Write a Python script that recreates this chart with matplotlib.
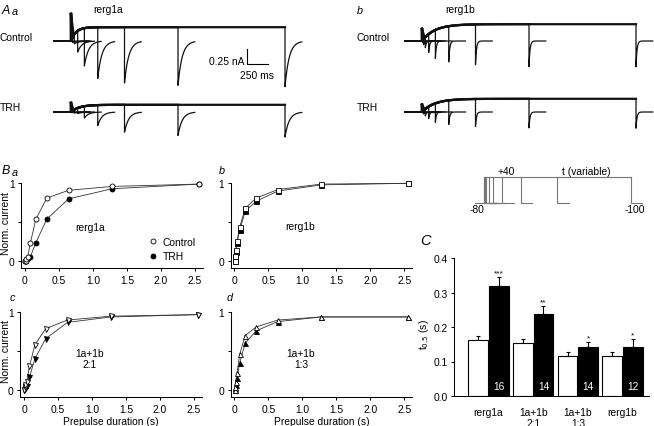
import numpy as np
import matplotlib
matplotlib.use('Agg')
from matplotlib import pyplot as plt

plt.rcParams['font.family'] = ['Liberation Sans', 'DejaVu Sans']
plt.rcParams['font.size'] = 7.4
plt.rcParams['axes.linewidth'] = 0.75
plt.rcParams['xtick.major.width'] = 0.75
plt.rcParams['ytick.major.width'] = 0.75
plt.rcParams['xtick.major.size'] = 2.5
plt.rcParams['ytick.major.size'] = 2.5
plt.rcParams['xtick.direction'] = 'out'
plt.rcParams['ytick.direction'] = 'out'

W, H = 654, 427

# prepulse durations (s)
durations = [0.005, 0.01, 0.02, 0.04, 0.08, 0.16, 0.32, 0.64, 1.28, 2.56]

# normalised tail currents (panels Ba-Bd)
ba_control = [0.0, 0.01, 0.03, 0.06, 0.24, 0.54, 0.81, 0.91, 0.96, 0.99]
ba_trh = [0.0, 0.01, 0.02, 0.04, 0.06, 0.24, 0.54, 0.80, 0.93, 0.99]
bb_control = [0.01, 0.07, 0.14, 0.26, 0.44, 0.68, 0.81, 0.92, 0.99, 1.0]
bb_trh = [0.0, 0.05, 0.12, 0.24, 0.40, 0.64, 0.77, 0.90, 0.98, 1.0]
c_control = [0.0, 0.03, 0.06, 0.10, 0.30, 0.58, 0.79, 0.90, 0.95, 0.97]
c_trh = [0.0, 0.01, 0.03, 0.05, 0.16, 0.40, 0.66, 0.87, 0.94, 0.97]
d_control = [0.0, 0.04, 0.10, 0.22, 0.46, 0.70, 0.81, 0.90, 0.94, 0.94]
d_trh = [0.0, 0.02, 0.06, 0.15, 0.35, 0.60, 0.76, 0.88, 0.94, 0.94]

# panel C: t0.5 (s)
groups = ['rerg1a', '1a+1b\n2:1', '1a+1b\n1:3', 'rerg1b']
t05_control = [0.163, 0.154, 0.115, 0.115]
t05_control_sem = [0.012, 0.011, 0.013, 0.013]
t05_trh = [0.319, 0.238, 0.141, 0.143]
t05_trh_sem = [0.027, 0.024, 0.015, 0.022]
n_cells = [16, 14, 14, 12]
signif = ['***', '**', '*', '*']

# current traces (nA): step current, max tail current  [control, TRH]
rerg1a_plateau = [0.23, 0.12]
rerg1a_tail = [0.77, 0.42]
rerg1b_plateau = [0.28, 0.22]
rerg1b_tail = [0.43, 0.27]

fig = plt.figure(figsize=(W / 100, H / 100), dpi=100)


def px_axes(x0, y0, sx, sy, xlim, ylim):
    # data (0,0) sits at pixel (x0, y0); sx, sy in px per unit
    left = x0 + xlim[0] * sx
    top = y0 - ylim[1] * sy
    w = (xlim[1] - xlim[0]) * sx
    h = (ylim[1] - ylim[0]) * sy
    ax = fig.add_axes([left / W, 1 - (top + h) / H, w / W, h / H])
    ax.set_xlim(xlim)
    ax.set_ylim(ylim)
    ax.patch.set_alpha(0)
    return ax


def ftext(x, y, s, **kw):
    fig.text(x / W, 1 - y / H, s, **kw)


def sweep(d, plateau, tail, tau_on, tau_off, spike):
    t1 = np.linspace(-0.2, 0, 10)
    t2 = np.linspace(0, d, 80)
    i2 = plateau * (1 - np.exp(-t2 / tau_on))
    i2[0] = spike
    t3 = np.linspace(d, d + 0.2, 80)
    i3 = -tail * np.exp(-(t3 - d) / tau_off)
    return t1, t2, i2, t3, i3


def trace_panel(x0, y0, plateau, tail, norm, tau_on, tau_off, spike):
    ax = px_axes(x0, y0, 83.6, 60, (-0.25, 2.8), (-1.0, 0.6))
    ax.axis('off')
    for d, f in zip(durations, norm):
        t1, t2, i2, t3, i3 = sweep(d, plateau, tail * f, tau_on, tau_off, spike)
        ax.plot(t1, 0 * t1, color='#111111', lw=1.3)
        ax.plot(t2, i2, color='#111111', lw=1.6)
        ax.plot(np.concatenate([[d], t3]), np.concatenate([[i2[-1]], i3]),
                color='#111111', lw=0.9)
    return ax


# ---- A: current traces ----
ax_a = trace_panel(71, 42, rerg1a_plateau[0], rerg1a_tail[0], ba_control, 0.06, 0.05, 0.45)
trace_panel(71, 113, rerg1a_plateau[1], rerg1a_tail[1], ba_trh, 0.1, 0.05, 0.15)
trace_panel(422, 42, rerg1b_plateau[0], rerg1b_tail[0], bb_control, 0.15, 0.012, 0.2)
trace_panel(422, 113, rerg1b_plateau[1], rerg1b_tail[1], bb_trh, 0.15, 0.012, 0.12)

# scale bar 0.25 nA / 250 ms
ax_a.plot([2.105, 2.105, 2.355], [-0.133, -0.383, -0.383], color='black', lw=0.8)
ax_a.text(2.07, -0.33, '0.25 nA', ha='right', va='center')
ax_a.text(2.23, -0.57, '250 ms', ha='center', va='center')

ftext(2, 11, 'A', fontsize=9, style='italic', va='center')
ftext(11.5, 12, 'a', fontsize=7.8, style='italic', va='center')
ftext(108, 10, 'rerg1a', ha='center', va='center')
ftext(0, 38, 'Control', va='center')
ftext(0, 108, 'TRH', va='center')
ftext(357, 11, 'b', fontsize=7.8, style='italic', va='center')
ftext(460, 10, 'rerg1b', ha='center', va='center')
ftext(357, 38, 'Control', va='center')
ftext(357, 108, 'TRH', va='center')


# ---- B: normalised current vs prepulse duration ----
def curve_panel(x0, y0, sy, ctrl, trh, marker, xleft, ylow):
    ax = px_axes(x0, y0, 68, sy, (xleft, 2.62), (ylow, 1.05))
    ax.plot(durations, ctrl, '-', color='#333333', lw=0.6, zorder=1)
    ax.plot(durations, trh, '-', color='#333333', lw=0.6, zorder=1)
    h_trh, = ax.plot(durations, trh, ls='none', marker=marker, ms=3.6,
                     mfc='black', mec='black', mew=0.6, label='TRH', zorder=2)
    h_ctrl, = ax.plot(durations, ctrl, ls='none', marker=marker, ms=3.6,
                      mfc='white', mec='black', mew=0.6, label='Control', zorder=3)
    for s in ['top', 'right']:
        ax.spines[s].set_visible(False)
    ax.spines['left'].set_bounds(ylow, 1)
    ax.set_yticks([0, 0.5, 1])
    ax.set_yticklabels(['0', '', '1'])
    ax.set_xticks([0, 0.5, 1.0, 1.5, 2.0, 2.5])
    ax.set_xticklabels(['0', '0.5', '1.0', '1.5', '2.0', '2.5'])
    ax.tick_params(axis='y', pad=2)
    ax.tick_params(axis='x', pad=2.5)
    return ax, h_ctrl, h_trh


ax_ba, hc, ht = curve_panel(25, 262.3, 78, ba_control, ba_trh, 'o', -0.06, -0.09)
ax_ba.legend([hc, ht], ['Control', 'TRH'], loc='upper left',
             bbox_to_anchor=(150 / W, 1 - 238 / H), bbox_transform=fig.transFigure,
             frameon=False, handlelength=0.6, handletextpad=0.6, labelspacing=0.4,
             borderpad=0, borderaxespad=0, numpoints=1)
ax_ba.text(0.95, 0.44, 'rerg1a', ha='center', va='center')

ax_bb, _, _ = curve_panel(234.3, 262.3, 78, bb_control, bb_trh, 's', -0.055, -0.09)
ax_bb.text(0.97, 0.45, 'rerg1b', ha='center', va='center')

ax_c, _, _ = curve_panel(24, 390.7, 77.4, c_control, c_trh, 'v', -0.06, -0.1)
ax_c.text(0.96, 0.4, '1a+1b\n2:1', ha='center', va='center', linespacing=1.1)
ax_c.set_xlabel('Prepulse duration (s)', labelpad=1)

ax_d, _, _ = curve_panel(234.3, 390.7, 77.4, d_control, d_trh, '^', -0.055, -0.1)
ax_d.text(0.98, 0.4, '1a+1b\n1:3', ha='center', va='center', linespacing=1.1)
ax_d.set_xlabel('Prepulse duration (s)', labelpad=1)

ftext(6, 224, 'Norm. current', rotation=90, ha='center', va='center')
ftext(6, 352, 'Norm. current', rotation=90, ha='center', va='center')
ftext(2, 171, 'B', fontsize=9, style='italic', va='center')
ftext(12, 173, 'a', fontsize=7.8, style='italic', va='center')
ftext(219, 171, 'b', fontsize=7.8, style='italic', va='center')
ftext(10, 298, 'c', fontsize=7.8, style='italic', va='center')
ftext(227, 298, 'd', fontsize=7.8, style='italic', va='center')

# ---- voltage protocol ----
ax_p = px_axes(484, 204, 57.3, 26, (-0.3, 3.0), (-0.5, 1.5))
ax_p.axis('off')
pc = '#777777'
ax_p.plot([-0.15, 0, 0, durations[-1]], [0, 0, 1, 1], color=pc, lw=0.8)
for d in durations:
    ax_p.plot([d, d, d + 0.2], [1, 0, 0], color=pc, lw=0.8)
ax_p.text(0.38, 1.22, '+40', ha='center', va='center')
ax_p.text(1.78, 1.22, 't (variable)', ha='center', va='center')
ax_p.text(-0.12, -0.25, '-80', ha='center', va='center')
ax_p.text(2.64, -0.25, '-100', ha='center', va='center')

# ---- C: t0.5 bars ----
ax_t = px_axes(488.5, 397, 44.7, 345, (-0.77, 3.6), (0, 0.45))
x = np.arange(len(groups))
ax_t.bar(x - 0.23, t05_control, 0.44, color='white', edgecolor='black', lw=0.8, zorder=2)
ax_t.bar(x + 0.23, t05_trh, 0.44, color='black', edgecolor='black', lw=0.8, zorder=2)
ax_t.errorbar(x - 0.23, t05_control, yerr=[np.zeros(4), t05_control_sem], fmt='none',
              ecolor='black', elinewidth=0.8, capsize=1.5, capthick=0.8, zorder=1)
ax_t.errorbar(x + 0.23, t05_trh, yerr=[np.zeros(4), t05_trh_sem], fmt='none',
              ecolor='black', elinewidth=0.8, capsize=1.5, capthick=0.8, zorder=1)
for i in range(len(groups)):
    ax_t.text(x[i] + 0.23, t05_trh[i] + t05_trh_sem[i] + 0.002, signif[i],
              ha='center', va='bottom', fontsize=6)
    ax_t.text(x[i] + 0.23, 0.029, str(n_cells[i]), ha='center', va='center',
              color='white', fontsize=7.4)
for s in ['top', 'right']:
    ax_t.spines[s].set_visible(False)
ax_t.spines['left'].set_bounds(0, 0.4)
ax_t.set_yticks([0, 0.1, 0.2, 0.3, 0.4])
ax_t.set_yticklabels(['0.0', '0.1', '0.2', '0.3', '0.4'])
ax_t.set_xticks(x)
ax_t.set_xticklabels(groups, linespacing=1.05)
ax_t.tick_params(axis='x', length=0, pad=8)
ax_t.tick_params(axis='y', pad=2)
ftext(424, 335, 't$_{0.5}$ (s)', rotation=90, ha='center', va='center')
ftext(420, 241, 'C', fontsize=10.5, style='italic', va='center')

fig.savefig('out.png', dpi=100)
